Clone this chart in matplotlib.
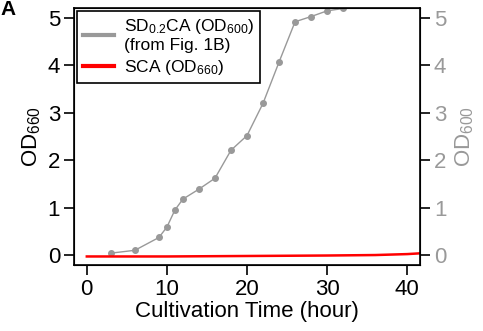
import numpy as np
import matplotlib
matplotlib.use("Agg")
import matplotlib.pyplot as plt
from matplotlib.lines import Line2D

plt.rcParams['font.family'] = ['Liberation Sans', 'DejaVu Sans']
plt.rcParams['mathtext.default'] = 'regular'

# SD0.2CA growth (OD600, from Fig. 1B)
sd_time = [3, 6, 9, 10, 11, 12, 14, 16, 18, 20, 22, 24, 26, 28, 30, 32, 34]
sd_od = [0.04, 0.10, 0.37, 0.59, 0.95, 1.18, 1.39, 1.62, 2.21, 2.52, 3.20,
         4.07, 4.92, 5.03, 5.15, 5.20, 5.30]

# SCA growth (OD660)
sca_time = [0, 10, 20, 30, 36, 40, 42]
sca_od = [-0.03, -0.03, -0.02, -0.01, 0.0, 0.02, 0.04]

xticks = [0, 10, 20, 30, 40]
yticks = [0, 1, 2, 3, 4, 5]

grey = '#999999'

fig = plt.figure(figsize=(4.83, 3.31), dpi=100)
ax = fig.add_axes([0.1532, 0.1994, 0.7164, 0.7764])

ax.plot(sd_time, sd_od, color=grey, lw=1.0, marker='o', ms=4)
ax.plot(sca_time, sca_od, color='red', lw=1.8)

ax.set_xlim(-1.6, 41.6)
ax.set_ylim(-0.21, 5.21)
ax.set_xticks(xticks)
ax.set_yticks(yticks)
ax.tick_params(direction='out', length=7, width=1.2, labelsize=16, pad=3)
for s in ax.spines.values():
    s.set_linewidth(1.2)

ax.set_xlabel('Cultivation Time (hour)', fontsize=16, labelpad=1)
ax.set_ylabel('OD$_{660}$', fontsize=16, labelpad=3)

ax2 = ax.twinx()
ax2.set_ylim(ax.get_ylim())
ax2.set_yticks(yticks)
ax2.tick_params(direction='out', length=7, width=1.2, labelsize=16,
                labelcolor=grey, pad=3)
ax2.set_ylabel('OD$_{600}$', fontsize=16, color=grey, labelpad=5)

handles = [Line2D([], [], color=grey, lw=3),
           Line2D([], [], color='red', lw=3)]
labels = ['SD$_{0.2}$CA (OD$_{600}$)\n(from Fig. 1B)', 'SCA (OD$_{660}$)']
leg = ax.legend(handles, labels, loc='upper left', fontsize=12.5, frameon=True,
                fancybox=False, edgecolor='black', handlelength=1.8,
                borderaxespad=0.2, labelspacing=0.3, handletextpad=0.6,
                borderpad=0.3)
leg.get_frame().set_linewidth(1.2)
leg.get_frame().set_alpha(1)

fig.text(0.0, 1.0, 'A', fontsize=15, fontweight='bold', va='top', ha='left')

fig.savefig('out.png', dpi=100)
